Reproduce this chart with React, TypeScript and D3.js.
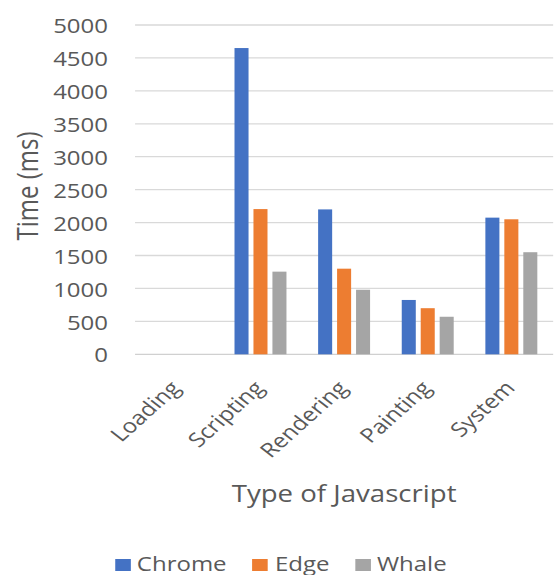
import React from 'react';
import * as d3 from 'd3';

const categories = ['Loading', 'Scripting', 'Rendering', 'Painting', 'System'];
const seriesNames = ['Chrome', 'Edge', 'Whale'];
const chrome = [0, 4650, 2200, 825, 2075];
const edge = [0, 2205, 1300, 700, 2050];
const whale = [0, 1255, 980, 570, 1550];
const yTicks = [0, 500, 1000, 1500, 2000, 2500, 3000, 3500, 4000, 4500, 5000];
const colors = ['#4472C4', '#ED7D31', '#A5A5A5'];

// chart is drawn in a narrower box and stretched sideways, like the source image
const W = 464;
const H = 575;
const FONT = '"Open Sans", sans-serif';
const TEXT = '#595959';

export default function App() {
  const values = [chrome, edge, whale];

  const x = d3.scaleBand().domain(categories).range([112.5, 460.8]);
  const x1 = d3.scaleBand()
    .domain(seriesNames)
    .range([0, x.bandwidth()])
    .paddingInner(0.26)
    .paddingOuter(0.835);
  const y = d3.scaleLinear().domain([0, 5000]).range([354.3, 25]);
  const color = d3.scaleOrdinal<string, string>().domain(seriesNames).range(colors);

  const legend = [
    { name: 'Chrome', box: 96, text: 114 },
    { name: 'Edge', box: 210, text: 229 },
    { name: 'Whale', box: 296, text: 314 },
  ];

  return (
    <svg
      width={557}
      height={H}
      viewBox={`0 0 ${W} ${H}`}
      preserveAspectRatio="none"
      style={{ position: 'absolute', left: 0, top: 0, background: '#fff' }}
      fontFamily={FONT}
    >
      <rect width={W} height={H} fill="#fff" />
      {yTicks.map(t => (
        <g key={t}>
          <line x1={x.range()[0]} x2={x.range()[1]} y1={y(t)} y2={y(t)}
            stroke={t === 0 ? '#d0d0d0' : '#d9d9d9'} strokeWidth={1.3} />
          <text x={90} y={y(t)} textAnchor="end" dominantBaseline="central"
            fontSize={20} fill={TEXT}>{t}</text>
        </g>
      ))}

      {categories.map((c, i) => (
        <g key={c} transform={`translate(${x(c)},0)`}>
          {seriesNames.map((s, j) => (
            <rect key={s}
              x={x1(s)}
              y={y(values[j][i])}
              width={x1.bandwidth()}
              height={y(0) - y(values[j][i])}
              fill={color(s)} />
          ))}
        </g>
      ))}

      {categories.map(c => {
        const cx = (x(c) as number) + x.bandwidth() / 2;
        return (
          <text key={c} transform={`translate(${cx + 4},389) rotate(-47)`}
            textAnchor="end" fontSize={20} fill={TEXT}>{c}</text>
        );
      })}

      <text transform="translate(22.5,186) rotate(-90)" textAnchor="middle"
        dominantBaseline="central" fontSize={24} fill={TEXT}>Time (ms)</text>

      <text x={(x.range()[0] + x.range()[1]) / 2} y={502} textAnchor="middle"
        fontSize={23} fill={TEXT}>Type of Javascript</text>

      {legend.map(l => (
        <g key={l.name}>
          <rect x={l.box} y={559} width={13} height={12} fill={color(l.name)} />
          <text x={l.text} y={571} fontSize={20} fill={TEXT}>{l.name}</text>
        </g>
      ))}
    </svg>
  );
}
